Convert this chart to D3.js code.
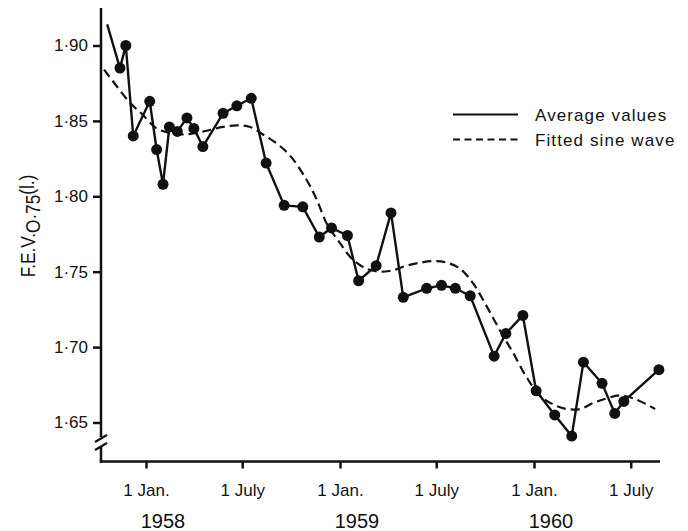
<!DOCTYPE html>
<html>
<head>
<meta charset="utf-8">
<script src="https://cdn.jsdelivr.net/npm/d3@7/dist/d3.min.js"></script>
<style>
  html, body { margin: 0; padding: 0; background: #fff; }
  svg { display: block; }
  text { font-family: "Liberation Sans", Arial, sans-serif; fill: #111; }
</style>
</head>
<body>
<svg id="chart" width="688" height="531"></svg>
<script>
// ---- Data ----
const avgDates = ["1957-10-20","1957-11-13","1957-11-24","1957-12-08","1958-01-08","1958-01-21","1958-02-02","1958-02-14","1958-03-01","1958-03-19","1958-04-01","1958-04-18","1958-05-26","1958-06-21","1958-07-18","1958-08-15","1958-09-18","1958-10-23","1958-11-23","1958-12-16","1959-01-15","1959-02-05","1959-03-10","1959-04-07","1959-04-30","1959-06-13","1959-07-11","1959-08-06","1959-09-03","1959-10-18","1959-11-09","1959-12-11","1960-01-05","1960-02-09","1960-03-12","1960-04-03","1960-05-08","1960-06-01","1960-06-18","1960-08-23"];
const avgValues = [1.914,1.885,1.900,1.840,1.863,1.831,1.808,1.846,1.843,1.852,1.845,1.833,1.855,1.860,1.865,1.822,1.794,1.793,1.773,1.779,1.774,1.744,1.754,1.789,1.733,1.739,1.741,1.739,1.734,1.694,1.709,1.721,1.671,1.655,1.641,1.690,1.676,1.656,1.664,1.685];

// fitted sine wave: days after 1 Jan 1958, value
const sineDayOffsets = [-79,-55,-30,-6,20,45,70,95,120,145,171,196,220,246,271,302,321,340,365,389,415,440,465,490,516,540,566,591,616,641,666,691,716,741,766,791,817,842,867,892,917,942,958];
const sineValues = [1.884,1.873,1.862,1.854,1.845,1.842,1.841,1.842,1.844,1.846,1.847,1.846,1.841,1.835,1.827,1.811,1.798,1.782,1.769,1.758,1.752,1.750,1.751,1.754,1.756,1.757,1.756,1.752,1.742,1.727,1.711,1.696,1.680,1.668,1.662,1.659,1.659,1.663,1.666,1.668,1.666,1.662,1.659];

const yTicks = [1.65, 1.70, 1.75, 1.80, 1.85, 1.90];
const xTickDates = ["1958-01-01","1958-07-01","1959-01-01","1959-07-01","1960-01-01","1960-07-01"];
const xTickLabels = ["1 Jan.","1 July","1 Jan.","1 July","1 Jan.","1 July"];
const yearLabels = ["1958","1959","1960"];
const legendLabels = ["Average values","Fitted sine wave"];

// ---- Drawing ----
const parse = d3.utcParse("%Y-%m-%d");
const base = parse("1958-01-01");
const svg = d3.select("#chart");

const axisX0 = 101, axisXEnd = 660, axisY = 461.5, axisTop = 8;

const x = d3.scaleUtc()
  .domain([parse("1958-01-01"), parse("1960-01-01")])
  .range([146, 534]);
const y = d3.scaleLinear()
  .domain([1.65, 1.90])
  .range([422.5, 45.5]);

const avg = avgDates.map((d, i) => ({ date: parse(d), value: avgValues[i] }));
const sine = sineDayOffsets.map((o, i) => ({ date: d3.utcDay.offset(base, o), value: sineValues[i] }));

// Y axis
const yAxis = d3.axisLeft(y).tickValues(yTicks).tickSize(8).tickPadding(5)
  .tickFormat(d => d.toFixed(2).replace(".", "\u00B7"));
const gy = svg.append("g").attr("transform", `translate(${axisX0},0)`).call(yAxis);
gy.select(".domain").remove();
gy.selectAll(".tick line").attr("stroke", "#111").attr("stroke-width", 2.5);
gy.selectAll(".tick text").attr("font-size", 17).style("font-family", "Liberation Sans, Arial, sans-serif").attr("fill", "#111");

// y axis line with break
svg.append("line").attr("x1", axisX0).attr("x2", axisX0).attr("y1", axisTop).attr("y2", 437)
  .attr("stroke", "#111").attr("stroke-width", 2.5);
svg.append("line").attr("x1", axisX0).attr("x2", axisX0).attr("y1", 446).attr("y2", axisY + 1.2)
  .attr("stroke", "#111").attr("stroke-width", 2.5);
[0, 8].forEach(dy => {
  svg.append("line").attr("x1", 95).attr("y1", 442 + dy).attr("x2", 107).attr("y2", 435 + dy)
    .attr("stroke", "#111").attr("stroke-width", 2.2);
});

// X axis
const xAxis = d3.axisBottom(x).tickValues(xTickDates.map(parse)).tickSize(7)
  .tickFormat((d, i) => xTickLabels[i]);
const gx = svg.append("g").attr("transform", `translate(0,${axisY})`).call(xAxis);
gx.select(".domain").remove();
gx.selectAll(".tick line").attr("stroke", "#111").attr("stroke-width", 2.5);
gx.selectAll(".tick text").attr("font-size", 17).attr("dy", null).attr("y", 34)
  .style("font-family", "Liberation Sans, Arial, sans-serif").attr("fill", "#111");
svg.append("line").attr("x1", axisX0 - 1.2).attr("x2", axisXEnd).attr("y1", axisY).attr("y2", axisY)
  .attr("stroke", "#111").attr("stroke-width", 2.5);

// Year labels
yearLabels.forEach(yr => {
  svg.append("text").attr("x", x(parse(yr + "-01-01")) + 17).attr("y", 528)
    .attr("text-anchor", "middle").attr("font-size", 20).text(yr);
});

// Y axis title
const yt = svg.append("text").attr("transform", "translate(35,226) rotate(-90) scale(0.82,1)")
  .attr("text-anchor", "middle").attr("font-size", 21);
yt.append("tspan").text("F.E.V.");
yt.append("tspan").attr("dy", 5).text("O\u00B775");
yt.append("tspan").attr("dy", -6.5).text("(l.)");

// Fitted sine wave
svg.append("path").datum(sine)
  .attr("fill", "none").attr("stroke", "#111").attr("stroke-width", 2.2)
  .attr("stroke-dasharray", "9,5")
  .attr("d", d3.line().x(d => x(d.date)).y(d => y(d.value)).curve(d3.curveCatmullRom.alpha(0.5)));

// Average values
svg.append("path").datum(avg)
  .attr("fill", "none").attr("stroke", "#111").attr("stroke-width", 2.4)
  .attr("d", d3.line().x(d => x(d.date)).y(d => y(d.value)));
svg.selectAll("circle.pt").data(avg.slice(1)).enter().append("circle")
  .attr("class", "pt").attr("cx", d => x(d.date)).attr("cy", d => y(d.value))
  .attr("r", 5.5).attr("fill", "#111");

// Legend
const lg = svg.append("g");
lg.append("line").attr("x1", 453).attr("x2", 518).attr("y1", 114.5).attr("y2", 114.5)
  .attr("stroke", "#111").attr("stroke-width", 2.2);
lg.append("line").attr("x1", 453).attr("x2", 518).attr("y1", 139.5).attr("y2", 139.5)
  .attr("stroke", "#111").attr("stroke-width", 2.2).attr("stroke-dasharray", "7,4.5");
lg.append("text").attr("x", 535).attr("y", 121).attr("font-size", 17)
  .attr("letter-spacing", 1.1).text(legendLabels[0]);
lg.append("text").attr("x", 535).attr("y", 146).attr("font-size", 17)
  .attr("letter-spacing", 1.1).text(legendLabels[1]);
</script>
</body>
</html>
